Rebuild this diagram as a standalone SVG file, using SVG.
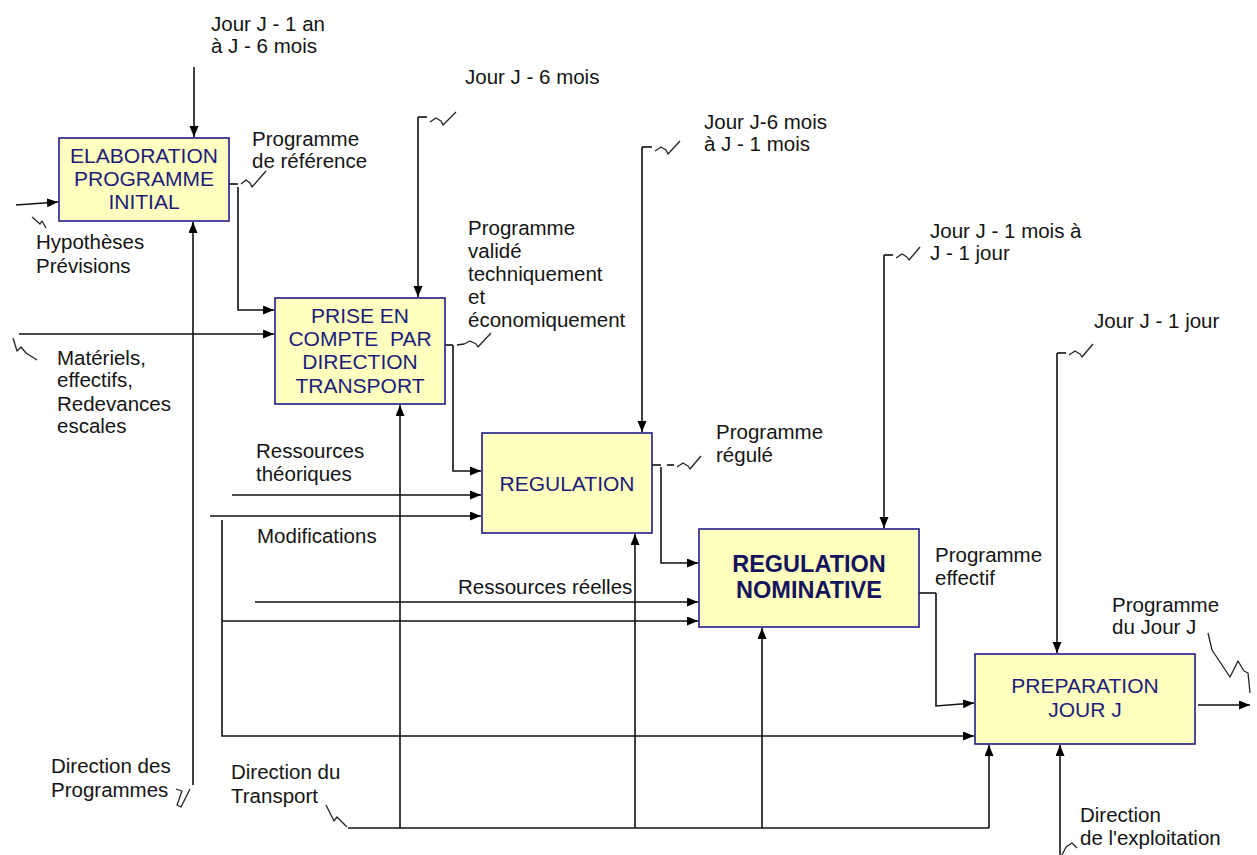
<svg xmlns="http://www.w3.org/2000/svg" width="1257" height="855" viewBox="0 0 1257 855">
  <defs>
    <marker id="arr" markerUnits="userSpaceOnUse" markerWidth="12" markerHeight="10" refX="11" refY="4.5" orient="auto">
      <path d="M0,0 L11,4.5 L0,9 Z" fill="#000"/>
    </marker>
    <style>
      .box { fill: #ffffc0; stroke: #1c1c8a; stroke-width: 1.6; }
      .bt { font-family: "Liberation Sans", Arial, sans-serif; font-size: 21px; fill: #1c1c7a; text-anchor: middle; }
      .btb { font-family: "Liberation Sans", Arial, sans-serif; font-size: 23.5px; font-weight: bold; fill: #14145e; text-anchor: middle; }
      .lb { font-family: "Liberation Sans", Arial, sans-serif; font-size: 20.5px; fill: #141414; }
      .ln { fill: none; stroke: #111; stroke-width: 1.6; }
      .ar { fill: none; stroke: #111; stroke-width: 1.6; marker-end: url(#arr); }
      .sq { fill: none; stroke: #222; stroke-width: 1.3; stroke-linejoin: round; }
    </style>
  </defs>
  <rect width="1257" height="855" fill="#fff"/>

  <!-- connectors -->
  <g id="connectors">
    <!-- ELABORATION inputs / control / mechanism -->
    <path class="ar" d="M194,67 V137"/>
    <path class="ar" d="M16,205 L58,202"/>
    <path class="sq" d="M32,217 L40,224 L42,221 L46,228"/>
    <path class="ar" d="M193,785 V222"/>
    <path class="sq" d="M176,789 L182,791 L177,805 L181,807 L190,789"/>

    <!-- ELABORATION output to PRISE -->
    <path class="ln" d="M229,184 H238"/>
    <path class="sq" d="M241,184 L246,180 L250,183 L252,187 L266,171"/>
    <path class="ar" d="M238,187 V310 H274"/>

    <!-- PRISE inputs -->
    <path class="ar" d="M19,334 H274"/>
    <path class="sq" d="M13,338 L17,351 L21,347 L26,353 L37,360"/>
    <path class="ln" d="M418,117 H427"/>
    <path class="sq" d="M430,122 L436,118 L441,121 L443,125 L456,112"/>
    <path class="ar" d="M418,117 V297"/>
    <path class="ar" d="M400,828 V405"/>

    <!-- PRISE output to REGULATION -->
    <path class="ln" d="M445,345 H453"/>
    <path class="sq" d="M457,345 L464,344 L470,341 L476,344 L478,347 L491,333"/>
    <path class="ar" d="M453,345 V471 H481"/>

    <!-- REGULATION inputs -->
    <path class="ln" d="M642,147 H652"/>
    <path class="sq" d="M655,151 L661,147 L666,150 L668,154 L680,141"/>
    <path class="ar" d="M642,147 V432"/>
    <path class="ar" d="M232,495 H481"/>
    <path class="ar" d="M210,516 H481"/>
    <path class="ar" d="M635,828 V534"/>

    <!-- REGULATION output to REGULATION NOMINATIVE -->
    <path class="ln" d="M652,465 H661"/>
    <path class="ln" d="M667,465 H674"/>
    <path class="sq" d="M677,467 L683,463 L688,466 L690,469 L701,456"/>
    <path class="ar" d="M661,467 V563 H698"/>

    <!-- REGULATION NOMINATIVE inputs -->
    <path class="ln" d="M884,255 H893"/>
    <path class="sq" d="M896,258 L902,254 L907,257 L909,260 L920,247"/>
    <path class="ar" d="M884,255 V528"/>
    <path class="ar" d="M255,602 H698"/>
    <path class="ar" d="M222,520 V736 H974"/>
    <path class="ar" d="M222,621 H698"/>
    <path class="ar" d="M762,828 V628"/>

    <!-- REGULATION NOMINATIVE output to PREPARATION -->
    <path class="ln" d="M919,593 H936"/>
    <path class="ar" d="M936,593 V706 L974,703"/>

    <!-- PREPARATION inputs / output -->
    <path class="ln" d="M1057,353 H1066"/>
    <path class="sq" d="M1069,355 L1075,351 L1080,354 L1082,357 L1093,344"/>
    <path class="ar" d="M1057,353 V653"/>
    <path class="ln" d="M348,828 H989"/>
    <path class="sq" d="M326,805 L334,821 L337,817 L342,822 L347,827"/>
    <path class="ar" d="M989,828 V745"/>
    <path class="ar" d="M1060,855 V745"/>
    <path class="sq" d="M1062,855 L1066,847 L1072,843 L1077,848"/>
    <path class="ar" d="M1198,705 H1250"/>
    <path class="sq" d="M1208,633 L1212,650 L1218,659 L1230,677 L1238,661 L1244,671 L1248,673 L1250,693"/>
  </g>

  <!-- nodes -->
  <g id="elaboration">
    <rect class="box" x="59" y="138" width="170" height="83"/>
    <text class="bt" x="144" y="163">ELABORATION</text>
    <text class="bt" x="144" y="186">PROGRAMME</text>
    <text class="bt" x="144" y="209">INITIAL</text>
  </g>
  <g id="prise-en-compte">
    <rect class="box" x="275" y="298" width="170" height="106"/>
    <text class="bt" x="360" y="323">PRISE EN</text>
    <text class="bt" x="360" y="346" xml:space="preserve">COMPTE  PAR</text>
    <text class="bt" x="360" y="369">DIRECTION</text>
    <text class="bt" x="360" y="393">TRANSPORT</text>
  </g>
  <g id="regulation">
    <rect class="box" x="482" y="433" width="170" height="100"/>
    <text class="bt" x="567" y="491">REGULATION</text>
  </g>
  <g id="regulation-nominative">
    <rect class="box" x="699" y="529" width="220" height="98"/>
    <text class="btb" x="809" y="572">REGULATION</text>
    <text class="btb" x="809" y="598">NOMINATIVE</text>
  </g>
  <g id="preparation">
    <rect class="box" x="975" y="654" width="220" height="90"/>
    <text class="bt" x="1085" y="693">PREPARATION</text>
    <text class="bt" x="1085" y="717">JOUR J</text>
  </g>

  <!-- labels -->
  <g id="labels" xml:space="preserve">
    <text class="lb" x="211" y="31">Jour J -  1 an</text>
    <text class="lb" x="211" y="53">à J - 6 mois</text>
    <text class="lb" x="252" y="146">Programme</text>
    <text class="lb" x="252" y="168">de référence</text>
    <text class="lb" x="36" y="249">Hypothèses</text>
    <text class="lb" x="36" y="273">Prévisions</text>
    <text class="lb" x="465" y="84">Jour J - 6 mois</text>
    <text class="lb" x="704" y="129">Jour J-6 mois</text>
    <text class="lb" x="704" y="151">à J - 1 mois</text>
    <text class="lb" x="468" y="235">Programme</text>
    <text class="lb" x="468" y="258">validé</text>
    <text class="lb" x="468" y="281">techniquement</text>
    <text class="lb" x="468" y="304">et</text>
    <text class="lb" x="468" y="327">économiquement</text>
    <text class="lb" x="930" y="238">Jour J - 1 mois à</text>
    <text class="lb" x="930" y="260">J - 1 jour</text>
    <text class="lb" x="1094" y="328">Jour J - 1 jour</text>
    <text class="lb" x="57" y="365">Matériels,</text>
    <text class="lb" x="57" y="387">effectifs,</text>
    <text class="lb" x="57" y="411">Redevances</text>
    <text class="lb" x="57" y="433">escales</text>
    <text class="lb" x="256" y="458">Ressources</text>
    <text class="lb" x="256" y="481">théoriques</text>
    <text class="lb" x="257" y="543">Modifications</text>
    <text class="lb" x="716" y="439">Programme</text>
    <text class="lb" x="716" y="462">régulé</text>
    <text class="lb" x="935" y="562">Programme</text>
    <text class="lb" x="935" y="585">effectif</text>
    <text class="lb" x="458" y="594">Ressources réelles</text>
    <text class="lb" x="1112" y="612">Programme</text>
    <text class="lb" x="1112" y="634">du Jour J</text>
    <text class="lb" x="51" y="773">Direction des</text>
    <text class="lb" x="51" y="797">Programmes</text>
    <text class="lb" x="231" y="779">Direction du</text>
    <text class="lb" x="231" y="803">Transport</text>
    <text class="lb" x="1080" y="822">Direction</text>
    <text class="lb" x="1080" y="845">de l'exploitation</text>
  </g>
</svg>
